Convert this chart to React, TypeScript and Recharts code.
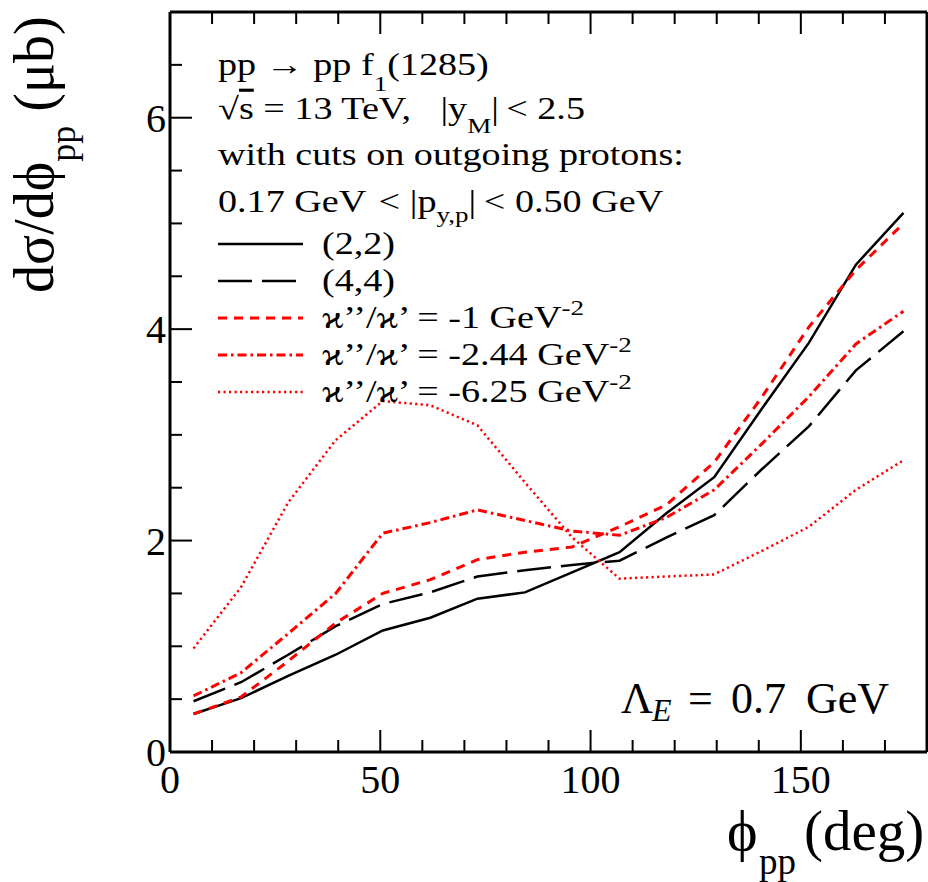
import React from "react";
import { LineChart, Line, XAxis, YAxis } from "recharts";

// phi_pp bin centres (deg)
const phi = [5.6, 16.9, 28.1, 39.4, 50.6, 61.9, 73.1, 84.4, 95.6, 106.9, 118.1, 129.4, 140.6, 151.9, 163.1, 174.4];

// dsigma/dphi_pp (microbarn)
const fit22 = [0.36, 0.51, 0.72, 0.92, 1.15, 1.27, 1.45, 1.51, 1.7, 1.89, 2.26, 2.6, 3.24, 3.87, 4.61, 5.1];
const fit44 = [0.48, 0.66, 0.92, 1.19, 1.4, 1.51, 1.66, 1.72, 1.77, 1.81, 2.03, 2.24, 2.67, 3.08, 3.61, 3.98];
const kappa1 = [0.36, 0.52, 0.86, 1.22, 1.5, 1.63, 1.82, 1.89, 1.94, 2.13, 2.34, 2.74, 3.35, 4.02, 4.56, 5.0];
const kappa244 = [0.53, 0.75, 1.12, 1.5, 2.07, 2.17, 2.29, 2.19, 2.09, 2.05, 2.22, 2.48, 2.91, 3.36, 3.86, 4.17];
const kappa625 = [0.98, 1.56, 2.36, 2.95, 3.32, 3.28, 3.09, 2.55, 2.03, 1.64, 1.66, 1.68, 1.9, 2.13, 2.48, 2.76];

const xTicks = [0, 10, 20, 30, 40, 50, 60, 70, 80, 90, 100, 110, 120, 130, 140, 150, 160, 170, 180];
const yTicks = [0, 0.5, 1, 1.5, 2, 2.5, 3, 3.5, 4, 4.5, 5, 5.5, 6, 6.5, 7];
const xLabels = [0, 50, 100, 150];
const yLabels = [0, 2, 4, 6];

const SERIF = "'Liberation Serif', 'Times New Roman', 'DejaVu Serif', serif";
const RED = "#ff0000";
const MAJOR = 22;
const MINOR = 12;
const TXT = 31; // legend font size
const WIDE = 1.23; // legend text is drawn a bit wider than it is tall

const data = phi.map((p, i) => ({
  phi: p,
  fit22: fit22[i],
  fit44: fit44[i],
  kappa1: kappa1[i],
  kappa244: kappa244[i],
  kappa625: kappa625[i],
}));

const styles = [
  { key: "fit22", stroke: "#000", width: 2.5, dash: undefined },
  { key: "fit44", stroke: "#000", width: 2.5, dash: "34 10" },
  { key: "kappa1", stroke: RED, width: 3, dash: "9 7" },
  { key: "kappa244", stroke: RED, width: 3, dash: "9 4 2.5 4" },
  { key: "kappa625", stroke: RED, width: 2.5, dash: "2.2 3.3" },
];

function BottomTick(props: any) {
  const { x, y, payload } = props;
  const major = payload.value % 50 === 0;
  return (
    <g>
      <line x1={x} x2={x} y1={y} y2={y - (major ? MAJOR : MINOR)} stroke="#000" strokeWidth={2} />
      {xLabels.includes(payload.value) && (
        <text x={x} y={y + 41} textAnchor="middle" fontSize={40} fontFamily={SERIF} fill="#000">
          {payload.value}
        </text>
      )}
    </g>
  );
}

function TopTick(props: any) {
  const { x, y, payload } = props;
  const major = payload.value % 50 === 0;
  return <line x1={x} x2={x} y1={y} y2={y + (major ? MAJOR : MINOR)} stroke="#000" strokeWidth={2} />;
}

function LeftTick(props: any) {
  const { x, y, payload } = props;
  const major = payload.value % 2 === 0;
  return (
    <g>
      <line x1={x} x2={x + (major ? MAJOR : MINOR)} y1={y} y2={y} stroke="#000" strokeWidth={2} />
      {yLabels.includes(payload.value) && (
        <text x={x - 4} y={y + 14} textAnchor="end" fontSize={40} fontFamily={SERIF} fill="#000">
          {payload.value}
        </text>
      )}
    </g>
  );
}

function RightTick(props: any) {
  const { x, y, payload } = props;
  const major = payload.value % 2 === 0;
  return <line x1={x} x2={x - (major ? MAJOR : MINOR)} y1={y} y2={y} stroke="#000" strokeWidth={2} />;
}

// a line of legend text, placed by its left end and baseline
function Wide({ x, y, children }: { x: number; y: number; children: React.ReactNode }) {
  return (
    <text transform={`translate(${x},${y}) scale(${WIDE},1)`} fontSize={TXT} fill="#000">
      {children}
    </text>
  );
}

const kappaValues = ["-1", "-2.44", "-6.25"];

function Annotations() {
  return (
    <svg
      width={928}
      height={882}
      style={{ position: "absolute", left: 0, top: 0, pointerEvents: "none" }}
      fontFamily={SERIF}
    >
      {/* header text */}
      <Wide x={218} y={75}>
        pp → pp f<tspan fontSize={22} dy={16}>1</tspan>
        <tspan dy={-16}>(1285)</tspan>
      </Wide>
      <Wide x={218} y={119}>
        √<tspan style={{ textDecoration: "overline" }}>s</tspan> = 13 TeV,
        <tspan dx={24}>|y</tspan>
        <tspan fontSize={22} dy={14}>M</tspan>
        <tspan dy={-14}>|</tspan>
        <tspan dx={6}>&lt; 2.5</tspan>
      </Wide>
      <Wide x={218} y={165}>with cuts on outgoing protons:</Wide>
      <Wide x={218} y={212}>
        0.17 GeV<tspan dx={10}>&lt;</tspan>
        <tspan dx={8}>|p</tspan>
        <tspan fontSize={22} dy={10}>y,p</tspan>
        <tspan dy={-10}>|</tspan>
        <tspan dx={6}>&lt;</tspan>
        <tspan dx={8}>0.50 GeV</tspan>
      </Wide>

      {/* legend */}
      {styles.map((s, i) => {
        const y = 244 + i * 37;
        return (
          <line
            key={s.key}
            x1={218}
            x2={303}
            y1={y}
            y2={y}
            stroke={s.stroke}
            strokeWidth={s.width}
            strokeDasharray={s.dash}
          />
        );
      })}
      <Wide x={322} y={254}>(2,2)</Wide>
      <Wide x={322} y={291}>(4,4)</Wide>
      {kappaValues.map((v, i) => (
        <Wide key={v} x={322} y={328 + i * 37}>
          ϰ’’/ϰ’ = {v} GeV<tspan fontSize={22} dy={-13}>-2</tspan>
        </Wide>
      ))}

      {/* Lambda_E */}
      <text y={713} fontSize={44} fill="#000">
        <tspan x={621}>Λ</tspan>
        <tspan x={652} fontSize={32} fontStyle="italic" dy={8}>E</tspan>
        <tspan x={688} dy={-8}>=</tspan>
        <tspan x={731}>0.7</tspan>
        <tspan x={806}>GeV</tspan>
      </text>

      {/* axis titles */}
      <text y={850} fill="#000">
        <tspan x={727} fontSize={58}>ϕ</tspan>
        <tspan x={759} fontSize={37} dy={24}>pp</tspan>
        <tspan x={804} fontSize={57} dy={-24}>(deg)</tspan>
      </text>
      <text transform="translate(53,293) rotate(-90)" fontSize={56} fill="#000">
        dσ/dϕ<tspan fontSize={36} dy={22}>pp</tspan>
        <tspan dy={-22}> (μb)</tspan>
      </text>
    </svg>
  );
}

export default function App() {
  return (
    <div style={{ position: "absolute", left: 0, top: 0, width: 928, height: 882, background: "#fff" }}>
      <LineChart width={928} height={882} data={data} margin={{ top: 11, right: 0, bottom: 129, left: 169 }}>
        <XAxis
          xAxisId="b"
          dataKey="phi"
          type="number"
          domain={[0, 180]}
          ticks={xTicks}
          interval={0}
          height={1}
          tickSize={0}
          tickMargin={0}
          axisLine={{ stroke: "#000", strokeWidth: 3 }}
          tick={(p: any) => <BottomTick {...p} />}
        />
        <XAxis
          xAxisId="t"
          orientation="top"
          dataKey="phi"
          type="number"
          domain={[0, 180]}
          ticks={xTicks}
          interval={0}
          height={1}
          tickSize={0}
          tickMargin={0}
          axisLine={{ stroke: "#000", strokeWidth: 3 }}
          tick={(p: any) => <TopTick {...p} />}
        />
        <YAxis
          yAxisId="l"
          type="number"
          domain={[0, 7]}
          ticks={yTicks}
          interval={0}
          width={1}
          tickSize={0}
          tickMargin={0}
          axisLine={{ stroke: "#000", strokeWidth: 3 }}
          tick={(p: any) => <LeftTick {...p} />}
        />
        <YAxis
          yAxisId="r"
          orientation="right"
          type="number"
          domain={[0, 7]}
          ticks={yTicks}
          interval={0}
          width={1}
          tickSize={0}
          tickMargin={0}
          axisLine={{ stroke: "#000", strokeWidth: 3 }}
          tick={(p: any) => <RightTick {...p} />}
        />
        {styles.map((s) => (
          <Line
            key={s.key}
            xAxisId="b"
            yAxisId="l"
            type="linear"
            dataKey={s.key}
            stroke={s.stroke}
            strokeWidth={s.width}
            strokeDasharray={s.dash}
            dot={false}
            activeDot={false}
            isAnimationActive={false}
          />
        ))}
      </LineChart>
      <Annotations />
    </div>
  );
}
